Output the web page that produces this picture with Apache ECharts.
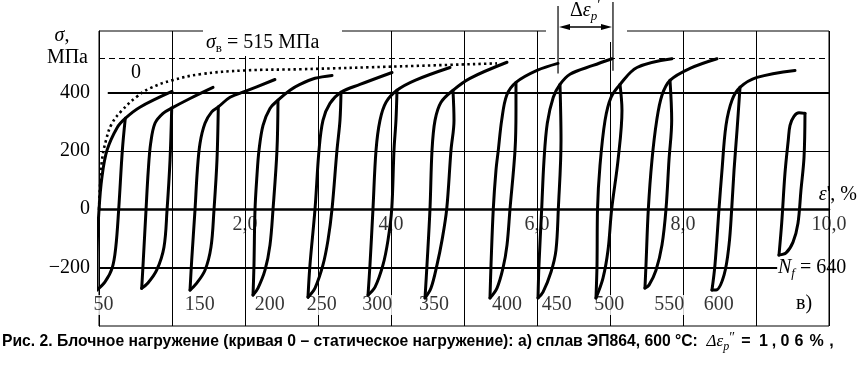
<!DOCTYPE html>
<html><head><meta charset="utf-8">
<script src="https://cdn.jsdelivr.net/npm/echarts@6/dist/echarts.min.js"></script>
<style>html,body{margin:0;padding:0;background:#fff}#c{width:859px;height:365px}</style>
</head><body><div id="c"></div>
<script>
// ---- axis ticks / labels ----
const strainTickValues = [2, 4, 6, 8, 10];
const strainTickLabels = ['2,0', '4,0', '6,0', '8,0', '10,0'];
const stressTickValues = [-200, 0, 200, 400];
const stressTickLabels = ['\u2212200', '0', '200', '400'];
const ultimateStress = 515;

// ---- static loading curve "0" [strain %, stress MPa] ----
const staticCurve = [[0,0],[0.014,82],[0.041,168],[0.096,236],[0.178,294],[0.315,338],[0.507,383],[0.699,414],[1.0,441],[1.384,462],[2.0,475],[2.753,479],[4.123,489],[5.452,499]];

// ---- hysteresis loops: loading branch (Up) and unloading branch (Down) ----
const loop050Up = [[-0.03,-277],[-0.03,-174],[0.0,-3],[0.04,109],[0.11,202],[0.25,280],[0.36,311],[0.56,349],[1.0,403]];
const loop050Down = [[0.36,311],[0.32,202],[0.27,0],[0.23,-130],[0.18,-202],[0.08,-250],[-0.03,-277]];
const loop100Up = [[0.585,-271],[0.607,-174],[0.644,-3],[0.675,133],[0.708,226],[0.767,294],[0.877,328],[0.996,346],[1.247,379],[1.562,417]];
const loop100Down = [[0.996,346],[0.973,168],[0.932,-3],[0.89,-130],[0.79,-209],[0.67,-253],[0.585,-271]];
const loop150Up = [[1.247,-277],[1.27,-174],[1.315,-3],[1.347,133],[1.384,226],[1.452,294],[1.544,333],[1.634,350],[1.795,383],[2.0,403],[2.41,444]];
const loop150Down = [[1.634,350],[1.616,168],[1.575,-3],[1.534,-130],[1.452,-209],[1.33,-256],[1.247,-277]];
const loop200Up = [[2.11,-294],[2.123,-191],[2.137,-3],[2.164,116],[2.192,202],[2.247,287],[2.342,345],[2.452,373],[2.616,407],[2.753,427],[2.959,448],[3.192,458]];
const loop200Down = [[2.452,373],[2.438,202],[2.384,0],[2.342,-123],[2.274,-209],[2.178,-270],[2.11,-294]];
const loop250Up = [[2.863,-301],[2.89,-191],[2.959,0],[3.014,202],[3.068,304],[3.164,362],[3.315,400],[3.575,427],[4.014,468]];
const loop250Down = [[3.315,400],[3.301,304],[3.26,202],[3.192,0],[3.137,-106],[3.068,-191],[2.959,-270],[2.863,-301]];
const loop300Up = [[3.685,-294],[3.712,-191],[3.753,0],[3.795,202],[3.849,304],[3.932,366],[4.082,407],[4.329,441],[4.808,485]];
const loop300Down = [[4.082,407],[4.068,304],[4.041,202],[4.01,0],[3.959,-106],[3.89,-191],[3.781,-267],[3.685,-294]];
const loop350Up = [[4.466,-304],[4.493,-191],[4.534,0],[4.562,202],[4.603,304],[4.685,366],[4.849,407],[5.082,448],[5.589,503]];
const loop350Down = [[4.849,407],[4.863,304],[4.822,202],[4.763,0],[4.699,-106],[4.63,-191],[4.548,-270],[4.466,-304]];
const loop400Up = [[5.356,-304],[5.37,-191],[5.401,0],[5.438,133],[5.47,202],[5.516,304],[5.585,390],[5.712,434],[6.0,475],[6.288,499]];
const loop400Down = [[5.712,434],[5.712,338],[5.699,202],[5.63,0],[5.589,-123],[5.534,-202],[5.452,-270],[5.356,-304]];
const loop450Up = [[6.014,-304],[6.027,-191],[6.064,0],[6.096,168],[6.141,294],[6.223,383],[6.315,427],[6.452,462],[6.767,492],[7.027,515]];
const loop450Down = [[6.315,427],[6.329,236],[6.292,0],[6.26,-140],[6.192,-215],[6.082,-284],[6.014,-304]];
const loop500Up = [[6.808,-304],[6.822,-191],[6.829,0],[6.863,150],[6.932,304],[7.014,383],[7.137,427],[7.37,485],[7.849,515]];
const loop500Down = [[7.137,427],[7.164,338],[7.11,168],[7.023,0],[6.973,-140],[6.904,-236],[6.808,-304]];
const loop550Up = [[7.479,-270],[7.493,-191],[7.525,0],[7.575,168],[7.64,304],[7.712,390],[7.822,441],[8.096,482],[8.466,515]];
const loop550Down = [[7.822,441],[7.845,304],[7.808,168],[7.767,0],[7.712,-123],[7.63,-209],[7.534,-260],[7.479,-270]];
const loop600Up = [[8.397,-277],[8.438,-191],[8.493,0],[8.534,133],[8.589,287],[8.671,373],[8.781,417],[9.014,451],[9.534,475]];
const loop600Down = [[8.781,417],[8.74,270],[8.699,133],[8.667,0],[8.63,-123],[8.562,-226],[8.452,-277],[8.397,-277]];
const loop640Up = [[9.315,-157],[9.352,-48],[9.397,123],[9.442,236],[9.466,287],[9.52,318],[9.589,330],[9.671,328]];
const loop640Down = [[9.671,328],[9.658,178],[9.616,65],[9.575,-48],[9.507,-113],[9.411,-150],[9.315,-157]];

// ---- cycle number labels under the loops ----
const cycleLabels = ['50','150','200','250','300','350','400','450','500','550','600'];
const cycleLabelStrain = [0.06,1.38,2.34,3.05,3.81,4.59,5.59,6.27,6.99,7.81,8.49];
const cycleLabelStress = -328;

const loops = [
  [loop050Up, loop050Down],[loop100Up, loop100Down],[loop150Up, loop150Down],
  [loop200Up, loop200Down],[loop250Up, loop250Down],[loop300Up, loop300Down],
  [loop350Up, loop350Down],[loop400Up, loop400Down],[loop450Up, loop450Down],
  [loop500Up, loop500Down],[loop550Up, loop550Down],[loop600Up, loop600Down],
  [loop640Up, loop640Down]
];

const SERIF = "'Liberation Serif','Times New Roman',serif";
const SANS = "'Liberation Sans',Arial,sans-serif";
const chart = echarts.init(document.getElementById('c'), null, {renderer: 'canvas'});

const series = [];
series.push({
  type: 'line', data: staticCurve, smooth: 0.4, symbol: 'none', z: 2, silent: true,
  lineStyle: {color: '#000', width: 2.6, type: [2.4, 3.2], cap: 'butt'},
  markLine: {
    silent: true, symbol: 'none', label: {show: false}, animation: false,
    lineStyle: {color: '#000', type: 'solid'},
    data: [
      [{coord: [0.12, 400], lineStyle: {width: 2, type: 'solid', color: '#000'}}, {coord: [10, 400]}],
      [{coord: [0, 200], lineStyle: {width: 1, type: 'solid', color: '#000'}}, {coord: [10, 200]}],
      [{coord: [0, -200], lineStyle: {width: 2, type: 'solid', color: '#000'}}, {coord: [9.29, -200]}],
      [{coord: [0, ultimateStress], lineStyle: {width: 1.2, type: [6, 4], color: '#000'}}, {coord: [10, ultimateStress]}]
    ]
  }
});
loops.forEach(pair => {
  pair.forEach(branch => {
    series.push({type: 'line', data: branch, smooth: 0.35, symbol: 'none', z: 3, silent: true,
      lineStyle: {color: '#000', width: 3, cap: 'round', join: 'round'}});
  });
});
series.push({
  type: 'scatter', z: 1, silent: true, symbolSize: 0,
  data: cycleLabels.map((t, i) => ({value: [cycleLabelStrain[i], cycleLabelStress], name: t})),
  label: {show: true, position: 'inside', formatter: '{b}', color: '#000', fontFamily: SERIF, fontSize: 20, backgroundColor: '#fff', padding: [0, 1]}
});
// strain tick labels sitting under the zero line
series.push({
  type: 'scatter', z: 4, silent: true, symbolSize: 0,
  data: strainTickValues.map((v, i) => ({value: [v, 0], name: strainTickLabels[i]})),
  label: {show: true, position: 'inside', offset: [0, 16], formatter: '{b}', color: '#000', fontFamily: SERIF, fontSize: 20}
});

const option = {
  animation: false,
  backgroundColor: '#fff',
  grid: {left: 99, right: 30, top: 31, bottom: 39, show: true, borderColor: '#000', borderWidth: 1, backgroundColor: 'transparent'},
  xAxis: {
    type: 'value', min: 0, max: 10, interval: 1,
    axisLine: {show: true, onZero: true, lineStyle: {color: '#000', width: 2.5}},
    axisTick: {show: false},
    splitLine: {show: true, lineStyle: {color: '#000', width: 1}},
    axisLabel: {show: false}
  },
  yAxis: {
    type: 'value', min: -400, max: 610, interval: 200,
    axisLine: {show: true, onZero: false, lineStyle: {color: '#000', width: 1}},
    axisTick: {show: false},
    splitLine: {show: false},
    axisLabel: {show: true, margin: 9, color: '#000', fontFamily: SERIF, fontSize: 20,
      formatter: v => { const i = stressTickValues.indexOf(v); return i >= 0 ? stressTickLabels[i] : ''; }}
  },
  series: series
};
chart.setOption(option);

// annotations
const pA = chart.convertToPixel({gridIndex: 0}, loop400Up[loop400Up.length - 1]);
const pB = chart.convertToPixel({gridIndex: 0}, loop450Up[loop450Up.length - 1]);
const arrowY = 27;
const txt = (x, y, text, rich, extra) => Object.assign({type: 'text', x: x, y: y, z: 100,
  style: Object.assign({text: text, fill: '#000', font: '20px ' + SERIF, rich: rich || {}, verticalAlign: 'middle'}, extra || {})});
const baseRich = {
  n: {fontFamily: SERIF, fontSize: 20, color: '#000'},
  i: {fontFamily: SERIF, fontSize: 20, fontStyle: 'italic', color: '#000'},
  sub: {fontFamily: SERIF, fontSize: 13, fontStyle: 'italic', color: '#000', padding: [11, 0, 0, 0]},
  subu: {fontFamily: SERIF, fontSize: 13, color: '#000', padding: [11, 0, 0, 0]},
  sup: {fontFamily: SERIF, fontSize: 16, color: '#000', padding: [0, 0, 10, 0]}
};
const cb = (w) => ({fontFamily: SANS, fontWeight: 'bold', fontSize: 16, color: '#000', width: w, align: 'center'});
chart.setOption({
  graphic: [
    {type: 'rect', z: 90, shape: {x: 203, y: 18, width: 139, height: 38}, style: {fill: '#fff'}},
    {type: 'rect', z: 90, shape: {x: 546, y: 0, width: 81, height: 42}, style: {fill: '#fff'}},
    {type: 'line', z: 95, shape: {x1: pA[0], y1: 6, x2: pA[0], y2: pA[1] + 10}, style: {stroke: '#000', lineWidth: 1.2}},
    {type: 'line', z: 95, shape: {x1: pB[0] + 1, y1: 2, x2: pB[0] + 1, y2: pB[1] + 12}, style: {stroke: '#000', lineWidth: 1.2}},
    {type: 'line', z: 95, shape: {x1: pA[0] + 6, y1: arrowY, x2: pB[0] - 5, y2: arrowY}, style: {stroke: '#000', lineWidth: 1.6}},
    {type: 'polygon', z: 95, shape: {points: [[pA[0] + 1, arrowY], [pA[0] + 12, arrowY - 3], [pA[0] + 12, arrowY + 3]]}, style: {fill: '#000'}},
    {type: 'polygon', z: 95, shape: {points: [[pB[0], arrowY], [pB[0] - 11, arrowY - 3], [pB[0] - 11, arrowY + 3]]}, style: {fill: '#000'}},
    txt(206, 43, '{i|σ}{subu|в}{n| = 515 МПа}', baseRich),
    txt(136, 73, '0', null, {align: 'center'}),
    txt(62, 36, '{i|σ}{n|,}', baseRich, {align: 'center'}),
    txt(88, 58, 'МПа', null, {align: 'right'}),
    txt(570, 11, '{n|Δ}{i|ε}{sub|p}{sup|′}', baseRich),
    txt(857, 195, "{i|ε}{n|', %}", baseRich, {align: 'right'}),
    txt(778, 268, '{i|N}{sub|f}{n| = 640}', baseRich),
    txt(804, 304, 'в)', null, {align: 'center'}),
    {type: 'text', x: 2, y: 342, z: 100, style: {
      text: '{b|Рис. 2. Блочное нагружение (кривая 0 – статическое нагружение): а) сплав ЭП864, 600 °С:  }{m|Δε}{ps|p}{pp|″}{eq|=}{c1|1}{c2|,}{c3|0}{c4|6}{c5|%}{c6|,}',
      verticalAlign: 'middle',
      rich: {
        b: {fontFamily: SANS, fontWeight: 'bold', fontSize: 15.7, color: '#000'},
        m: {fontFamily: SERIF, fontStyle: 'italic', fontSize: 17, color: '#000'},
        ps: {fontFamily: SERIF, fontStyle: 'italic', fontSize: 12, color: '#000', padding: [9, 0, 0, 0]},
        pp: {fontFamily: SERIF, fontSize: 14, color: '#000', padding: [0, 0, 8, 0]},
        eq: cb(22),
        c1: cb(13), c2: cb(8), c3: cb(14), c4: cb(14), c5: cb(21), c6: cb(9)
      }
    }}
  ]
});
</script></body></html>
